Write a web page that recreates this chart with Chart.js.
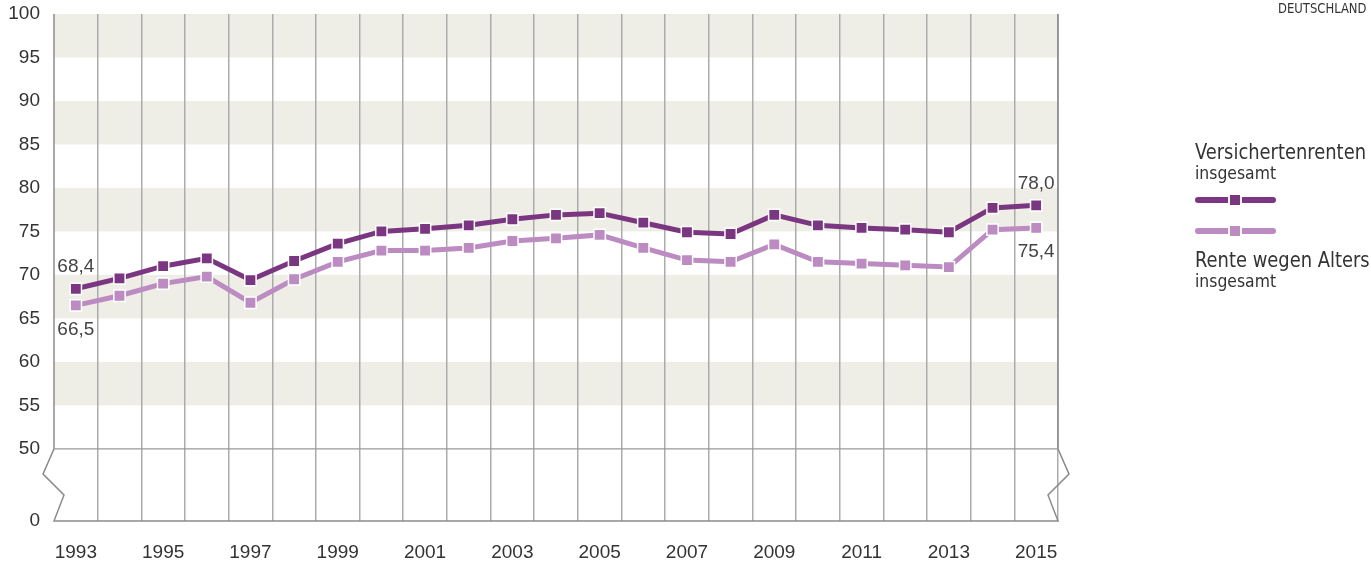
<!DOCTYPE html>
<html><head><meta charset="utf-8">
<script src="https://cdn.jsdelivr.net/npm/chart.js@4"></script>
<style>html,body{margin:0;padding:0;background:#fff;}#wrap{position:relative;width:1371px;height:563px;}</style>
</head><body><div id="wrap"><canvas id="c"></canvas></div>
<script>
const years = ['1993','1994','1995','1996','1997','1998','1999','2000','2001','2002','2003','2004','2005','2006','2007','2008','2009','2010','2011','2012','2013','2014','2015'];
const versichertenrenten = [68.4,69.6,71.0,71.9,69.4,71.6,73.6,75.0,75.3,75.7,76.4,76.9,77.1,76.0,74.9,74.7,76.9,75.7,75.4,75.2,74.9,77.7,78.0];
const renteWegenAlters = [66.5,67.6,69.0,69.8,66.8,69.5,71.5,72.8,72.8,73.1,73.9,74.2,74.6,73.1,71.7,71.5,73.5,71.5,71.3,71.1,70.9,75.2,75.4];
const yTickValues = [50,55,60,65,70,75,80,85,90,95,100];
const yBreakLabel = '0';
const yAxisFloor = 41.7;
const seriesNames = ['Versichertenrenten','Rente wegen Alters'];
const seriesSub = 'insgesamt';
const regionLabel = 'DEUTSCHLAND';
const colors = ['#7b3681','#bb8bc1'];

const NARROW = '"Liberation Sans Narrow","DejaVu Sans Condensed",sans-serif';
const SANS = '"Liberation Sans",Arial,sans-serif';
const fmt = v => v.toFixed(1).replace('.', ',');

const decor = {
  id: 'decor',
  beforeDraw(chart) {
    const {ctx, chartArea: a, scales: {y}} = chart;
    ctx.save();
    ctx.fillStyle = '#efeee6';
    for (let i = 1; i < yTickValues.length - 1; i += 2) {
      const b = y.getPixelForValue(yTickValues[i]);
      const t = y.getPixelForValue(yTickValues[i + 1]);
      ctx.fillRect(a.left, t, a.right - a.left, b - t);
    }
    ctx.restore();
  },
  beforeDatasetsDraw(chart) {
    const {ctx, chartArea: a, scales: {y}} = chart;
    const y50 = y.getPixelForValue(yTickValues[0]);
    const y0 = a.bottom;
    const h = y0 - y50;
    ctx.save();
    ctx.strokeStyle = '#8c8c8c';
    ctx.lineWidth = 1.5;
    ctx.lineJoin = 'miter';
    ctx.beginPath();
    ctx.moveTo(a.left, a.top); ctx.lineTo(a.left, y50);
    ctx.lineTo(a.left - 11, y50 + h * 0.35);
    ctx.lineTo(a.left + 10, y50 + h * 0.64);
    ctx.lineTo(a.left, y0);
    ctx.lineTo(a.right, y0);
    ctx.lineTo(a.right - 10, y50 + h * 0.64);
    ctx.lineTo(a.right + 11, y50 + h * 0.35);
    ctx.lineTo(a.right, y50);
    ctx.lineTo(a.right, a.top);
    ctx.stroke();
    ctx.strokeStyle = '#9a9a9a';
    ctx.lineWidth = 1.2;
    ctx.beginPath();
    ctx.moveTo(a.left, y50); ctx.lineTo(a.right, y50);
    ctx.stroke();
    ctx.restore();
  },
  afterDraw(chart) {
    const {ctx} = chart;
    ctx.save();
    const m0 = chart.getDatasetMeta(0).data, m1 = chart.getDatasetMeta(1).data;
    ctx.font = '19px ' + SANS;
    ctx.fillStyle = '#444';
    ctx.textAlign = 'center';
    ctx.textBaseline = 'middle';
    const last = years.length - 1;
    ctx.fillText(fmt(versichertenrenten[0]), m0[0].x, m0[0].y - 22);
    ctx.fillText(fmt(renteWegenAlters[0]), m1[0].x, m1[0].y + 24);
    ctx.fillText(fmt(versichertenrenten[last]), m0[last].x, m0[last].y - 22);
    ctx.fillText(fmt(renteWegenAlters[last]), m1[last].x, m1[last].y + 24);

    ctx.textAlign = 'left';
    ctx.textBaseline = 'alphabetic';
    ctx.fillStyle = '#333';
    const narrow = (txt, x, yy, size, sx) => {
      ctx.save();
      ctx.font = size + 'px ' + NARROW;
      ctx.translate(x, yy);
      ctx.scale(sx, 1);
      ctx.fillText(txt, 0, 0);
      ctx.restore();
    };
    ctx.font = '22px ' + NARROW;
    const sxBig = 171 / ctx.measureText(seriesNames[0]).width;
    ctx.font = '17px ' + NARROW;
    const sxSmall = 81 / ctx.measureText(seriesSub).width;

    narrow(regionLabel, 1278, 13, 14, Math.min(1, sxBig * 1.02));

    const lx = 1195;
    narrow(seriesNames[0], lx, 159, 22, sxBig);
    narrow(seriesSub, lx, 179, 17, sxSmall);
    const sym = (yy, col) => {
      ctx.strokeStyle = col; ctx.lineWidth = 6; ctx.lineCap = 'round';
      ctx.beginPath(); ctx.moveTo(lx + 3, yy); ctx.lineTo(lx + 78, yy); ctx.stroke();
      ctx.fillStyle = '#fff'; ctx.fillRect(lx + 33, yy - 7, 14, 14);
      ctx.fillStyle = col; ctx.fillRect(lx + 35, yy - 5, 10, 10);
    };
    sym(200, colors[0]);
    sym(231, colors[1]);
    ctx.fillStyle = '#333';
    narrow(seriesNames[1], lx, 267, 22, sxBig);
    narrow(seriesSub, lx, 287, 17, sxSmall);
    ctx.restore();
  }
};

const mkSet = (label, data, col) => ({
  label, data,
  borderColor: col, backgroundColor: col,
  borderWidth: 5, tension: 0,
  pointStyle: 'rect', pointRadius: 8, pointHoverRadius: 8,
  pointBackgroundColor: col, pointBorderColor: '#fff', pointBorderWidth: 1.5
});

new Chart(document.getElementById('c'), {
  type: 'line',
  data: {
    labels: years,
    datasets: [mkSet(seriesNames[0], versichertenrenten, colors[0]), mkSet(seriesNames[1], renteWegenAlters, colors[1])]
  },
  options: {
    responsive: true, maintainAspectRatio: false, animation: false,
    events: [],
    layout: {padding: {top: 14, right: 313, bottom: 0, left: 0}},
    plugins: {legend: {display: false}, tooltip: {enabled: false}},
    scales: {
      x: {
        type: 'category', offset: true,
        grid: {offset: true, drawTicks: false, lineWidth: 1.5,
          color: c => (c.index === 0 || c.index === years.length) ? 'rgba(0,0,0,0)' : '#ababab'},
        border: {display: false},
        ticks: {autoSkip: false, maxRotation: 0, padding: 20, color: '#333', font: {family: SANS, size: 19},
          callback: (v, i) => i % 2 === 0 ? years[i] : ''},
        afterFit: s => { s.height = 42; s.paddingLeft = 0; s.paddingRight = 0; }
      },
      y: {
        min: yAxisFloor, max: 100,
        grid: {display: false, drawTicks: false},
        border: {display: false},
        afterBuildTicks: s => { s.ticks = [{value: yAxisFloor}].concat(yTickValues.map(v => ({value: v}))); },
        ticks: {padding: 14, color: '#333', font: {family: SANS, size: 19},
          callback: v => v < yTickValues[0] ? yBreakLabel : String(v)},
        afterFit: s => { s.width = 54; s.paddingTop = 0; s.paddingBottom = 0; }
      }
    }
  },
  plugins: [decor]
});
</script></body></html>
